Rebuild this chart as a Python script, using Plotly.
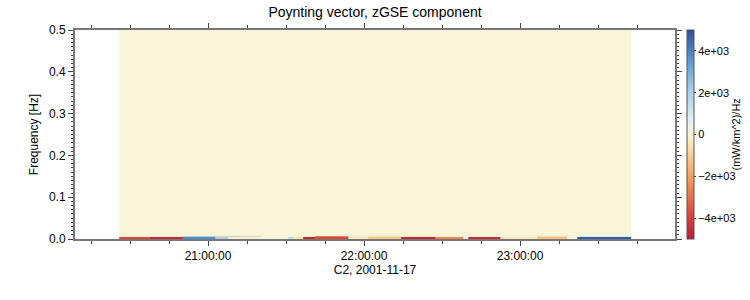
import plotly.graph_objects as go

# time bin edges (UT, 2001-11-17)
time_edges = ["20:25:50", "20:37:40", "20:50:25", "21:02:40", "21:07:40", "21:20:50",
              "21:30:50", "21:32:40", "21:36:30", "21:41:10", "21:53:50", "22:01:30",
              "22:14:10", "22:27:20", "22:38:00", "22:40:00", "22:52:20", "23:06:30",
              "23:18:00", "23:22:00", "23:42:40"]
# frequency bin edges [Hz]
freq_edges = [0.0, 0.0042, 0.0068, 0.5]
# Poynting flux spectral density (mW/km^2)/Hz, per time bin
s_low = [-3800, -4600, 3800, 2000, 300, 0, 1500, -500, -4700, -3800,
         -300, -1200, -4600, -2600, 0, -4600, -300, -1300, 0, 4700]
s_mid = [-200, -300, 2000, -800, -900, 0, 0, 0, -300, -2800,
         -100, -600, -400, -300, 0, -200, 0, -700, 0, 1000]
s_high = [0, 0, 0, 0, 0, 0, 0, 0, 0, 0,
          0, 0, 0, 0, 0, 0, 0, 0, 0, 0]

day = "2001-11-17 "
x_edges = [day + t for t in time_edges]
z = [s_low, s_mid, s_high]

cscale = [
    [0.0, "#b51c38"],
    [0.1, "#d6403a"],
    [0.3, "#f4a25e"],
    [0.45, "#fce3b0"],
    [0.5, "#f9f5d8"],
    [0.56, "#e6f2f0"],
    [0.7, "#a9d2ea"],
    [0.85, "#5f9bd1"],
    [1.0, "#2a4f9f"],
]

fig = go.Figure(go.Heatmap(
    x=x_edges, y=freq_edges, z=z,
    colorscale=cscale, zmin=-5000, zmax=5000,
    colorbar=dict(
        x=1.02, xanchor="left", xpad=0, y=0.5, yanchor="middle",
        len=1.0, lenmode="fraction", thickness=7, ypad=0,
        outlinewidth=1, outlinecolor="#555",
        tickvals=[-4000, -2000, 0, 2000, 4000],
        ticktext=["\u22124e+03", "\u22122e+03", "0", "2e+03", "4e+03"],
        ticks="outside", ticklen=2, tickcolor="#444",
        tickfont=dict(size=11, family="Liberation Sans, Arial", color="#000"),
    ),
))

fig.add_annotation(
    text="(mW/km^2)/Hz", textangle=-90,
    xref="paper", yref="paper", x=1.1, y=0.5,
    xanchor="center", yanchor="middle", showarrow=False,
    font=dict(size=11, family="Liberation Sans, Arial", color="#000"),
)

fig.update_layout(
    width=750, height=300,
    margin=dict(l=75, r=75, t=30, b=61),
    paper_bgcolor="white", plot_bgcolor="white",
    font=dict(family="Liberation Sans, Arial", size=12, color="#000"),
    title=dict(text="Poynting vector, zGSE component", x=0.5, xanchor="center",
               y=0.975, yanchor="top", font=dict(size=14)),
    xaxis=dict(
        type="date",
        range=[day + "20:08:50", day + "23:59:35"],
        dtick=3600000, tick0=day + "20:00:00", tickformat="%H:%M:%S",
        ticks="outside", ticklen=5, tickwidth=1.2, tickcolor="#444",
        minor=dict(dtick=900000, ticklen=3, tickcolor="#444", showgrid=False),
        showline=True, linecolor="#777", linewidth=2, mirror="allticks",
        showgrid=False, zeroline=False,
        title=dict(text="C2, 2001-11-17", standoff=2, font=dict(size=12)),
    ),
    yaxis=dict(
        range=[0, 0.5], dtick=0.1, tickformat=".1f",
        ticks="outside", ticklen=5, tickwidth=1.2, tickcolor="#444",
        minor=dict(dtick=0.01, ticklen=2, tickcolor="#444", showgrid=False),
        showline=True, linecolor="#777", linewidth=2, mirror="allticks",
        showgrid=False, zeroline=False,
        title=dict(text="Frequency [Hz]", standoff=8, font=dict(size=12)),
    ),
)

fig.write_html("out.html")
